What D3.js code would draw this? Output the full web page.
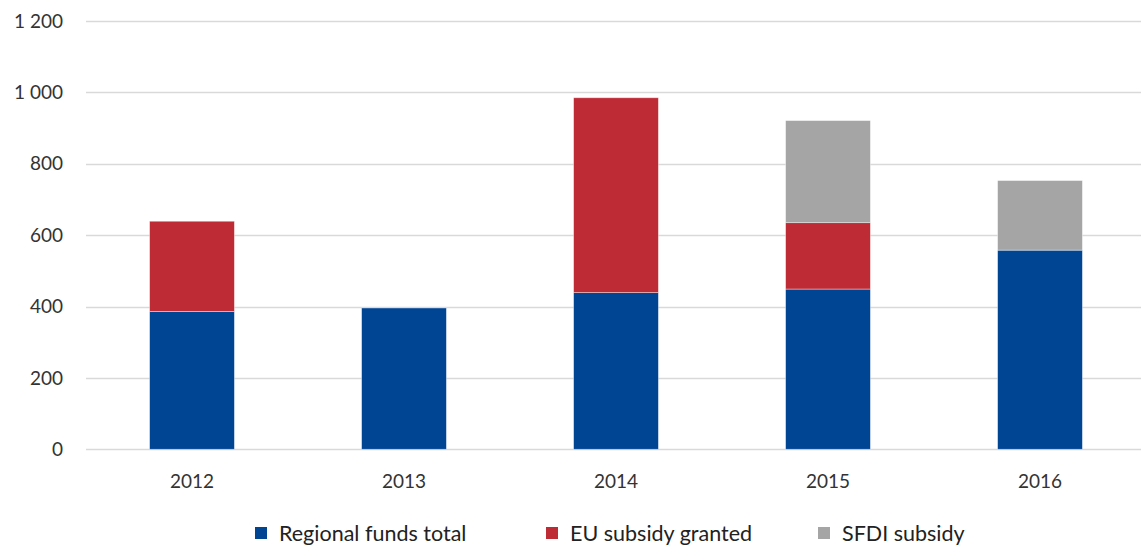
<!DOCTYPE html>
<html>
<head>
<meta charset="utf-8">
<script src="https://cdn.jsdelivr.net/npm/d3@7/dist/d3.min.js"></script>
<style>
  html, body { margin: 0; padding: 0; background: #fff; }
  svg { display: block; font-family: Lato, "Open Sans", sans-serif; }
</style>
</head>
<body>
<svg id="chart" width="1141" height="549"></svg>
<script>
// Funding by year (stacked)
const years = ["2012", "2013", "2014", "2015", "2016"];
const regionalFunds = [386, 396, 439, 449, 558];
const euSubsidy = [253, 0, 546, 186, 0];
const sfdiSubsidy = [0, 0, 0, 286, 195];
const seriesNames = ["Regional funds total", "EU subsidy granted", "SFDI subsidy"];
const seriesColors = ["#004494", "#BE2B35", "#A5A5A5"];
const yTicks = [0, 200, 400, 600, 800, 1000, 1200];

const rows = years.map((yr, i) => ({
  year: yr,
  regional: regionalFunds[i],
  eu: euSubsidy[i],
  sfdi: sfdiSubsidy[i]
}));
const keys = ["regional", "eu", "sfdi"];

const svg = d3.select("#chart");
const plotLeft = 86, plotRight = 1146, plotTop = 21, plotBottom = 449.3;

const x = d3.scaleBand().domain(years).range([plotLeft, plotRight])
  .paddingInner(0.6).paddingOuter(0.3);
const y = d3.scaleLinear().domain([0, 1200]).range([plotBottom, plotTop]);

const fmt = d3.formatLocale({ decimal: ",", thousands: " ", grouping: [3], currency: ["", ""] }).format(",d");

// gridlines
svg.append("g").selectAll("line").data(yTicks).join("line")
  .attr("x1", plotLeft).attr("x2", 1141)
  .attr("y1", d => Math.round(y(d)) + 0.5).attr("y2", d => Math.round(y(d)) + 0.5)
  .attr("stroke", "#D9D9D9").attr("stroke-width", 1.3);

// y tick labels
svg.append("g").selectAll("text").data(yTicks).join("text")
  .attr("x", 63).attr("y", d => y(d))
  .attr("dy", "0.35em").attr("text-anchor", "end")
  .attr("font-size", 19).attr("fill", "#333")
  .text(d => fmt(d));

// stacked bars
const stacked = d3.stack().keys(keys)(rows);
svg.append("g").selectAll("g").data(stacked).join("g")
  .attr("fill", (d, i) => seriesColors[i])
  .selectAll("rect").data(d => d.filter(s => s[1] - s[0] > 0)).join("rect")
  .attr("x", d => x(d.data.year))
  .attr("width", x.bandwidth())
  .attr("y", d => y(d[1]))
  .attr("height", d => y(d[0]) - y(d[1]))
  .attr("stroke", "#fff").attr("stroke-opacity", 0.5).attr("stroke-width", 0.8);

// x labels
svg.append("g").selectAll("text").data(years).join("text")
  .attr("x", d => x(d) + x.bandwidth() / 2).attr("y", 481)
  .attr("dy", "0.35em").attr("text-anchor", "middle")
  .attr("font-size", 19).attr("fill", "#333")
  .text(d => d);

// legend
const legendX = [255, 546, 818];
const lg = svg.append("g").selectAll("g").data(seriesNames).join("g")
  .attr("transform", (d, i) => `translate(${legendX[i]},533)`);
lg.append("rect").attr("x", 0).attr("y", -6).attr("width", 12).attr("height", 12)
  .attr("fill", (d, i) => seriesColors[i]);
lg.append("text").attr("x", 24).attr("y", 0).attr("dy", "0.35em")
  .attr("font-size", 21.5).attr("fill", "#222")
  .text(d => d);
</script>
</body>
</html>
